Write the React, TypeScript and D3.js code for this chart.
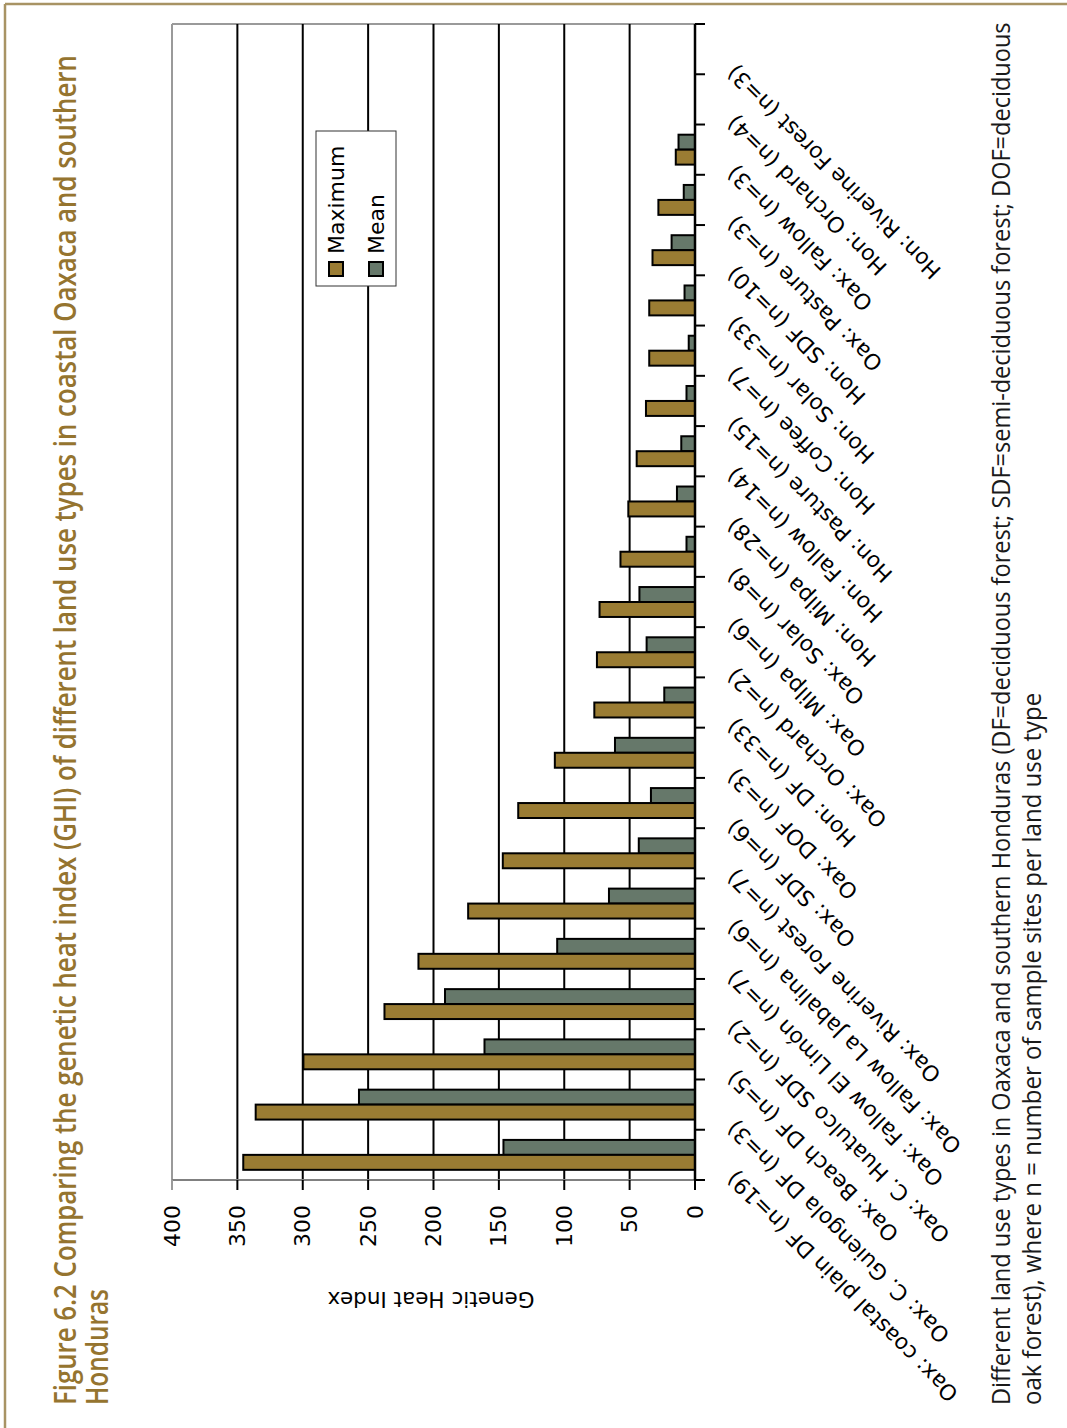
import React, { useLayoutEffect, useRef, useState } from "react";
import * as d3 from "d3";

const categories: string[] = [
  "Oax: coastal plain DF (n=19)",
  "Oax: C. Guiengola DF (n=3)",
  "Oax: Beach DF (n=5)",
  "Oax: C. Huatulco SDF (n=2)",
  "Oax: Fallow El Limón (n=7)",
  "Oax: Fallow La Jabalina (n=6)",
  "Oax: Riverine Forest (n=7)",
  "Oax: SDF (n=6)",
  "Oax: DOF (n=3)",
  "Hon: DF (n=33)",
  "Oax: Orchard (n=2)",
  "Oax: Milpa (n=6)",
  "Oax: Solar (n=8)",
  "Hon: Milpa (n=28)",
  "Hon: Fallow (n=14)",
  "Hon: Pasture (n=15)",
  "Hon: Coffee (n=7)",
  "Hon: Solar (n=33)",
  "Hon: SDF (n=10)",
  "Oax: Pasture (n=3)",
  "Oax: Fallow (n=3)",
  "Hon: Orchard (n=4)",
  "Hon: Riverine Forest (n=3)",
];

const maximumValues: (number | null)[] = [
  345.5, 336, 299.5, 237.5, 211.5, 173.5, 147, 135.2, 107.2, 77, 75, 73, 57,
  51, 44.6, 37.5, 35, 35, 32.5, 28, 14.7, null, null,
];

const meanValues: (number | null)[] = [
  146.5, 257, 161, 191.2, 105.4, 65.8, 43, 33.7, 61.2, 23.5, 37, 42.5, 6.5,
  13.8, 10.5, 6.5, 4.8, 8, 17.9, 8.6, 12.6, null, null,
];

const seriesNames = ["Maximum", "Mean"];
const valueTicks = [0, 50, 100, 150, 200, 250, 300, 350, 400];

const titleLines = [
  "Figure 6.2 Comparing the genetic heat index (GHI) of different land use types in coastal Oaxaca and southern",
  "Honduras",
];
const captionLines = [
  "Different land use types in Oaxaca and southern Honduras (DF=deciduous forest; SDF=semi-deciduous forest; DOF=deciduous",
  "oak forest), where n = number of sample sites per land use type",
];
const axisTitle = "Genetic Heat Index";

const W = 1067;
const H = 1428;
const GOLD = "#9a7c33";
const GREEN = "#66786a";
const TITLE = "#95742f";
const FRAME = "#a89364";
const CHART_FONT = "'DejaVu Sans', Verdana, sans-serif";

// Vertical (bottom-to-top) text squeezed along its reading direction to a target length
function FitVText(props: {
  x: number;
  y: number;
  target: number;
  fontSize: number;
  fontWeight: number;
  fill: string;
  children: string;
}) {
  const ref = useRef<SVGTextElement>(null);
  const [sx, setSx] = useState(0.8);
  useLayoutEffect(() => {
    if (ref.current) {
      const len = ref.current.getComputedTextLength();
      if (len > 0) setSx(props.target / len);
    }
  }, [props.target, props.children]);
  return (
    <text
      ref={ref}
      transform={`translate(${props.x}, ${props.y}) rotate(-90) scale(${sx}, 1)`}
      fontFamily="'Open Sans', sans-serif"
      fontWeight={props.fontWeight}
      fontSize={props.fontSize}
      fill={props.fill}
    >
      {props.children}
    </text>
  );
}

export default function App() {
  const left = 172;
  const right = 695;
  const top = 24;
  const bottom = 1180;

  const x = d3.scaleLinear().domain([0, 400]).range([right, left]);
  const y = d3.scaleBand<string>().domain(categories).range([bottom, top]);
  const bw = y.bandwidth();
  const sub = d3
    .scaleBand<string>()
    .domain(["Mean", "Maximum"])
    .range([0, bw])
    .paddingInner(0)
    .paddingOuter(0.68);

  const boundaries = d3.range(categories.length + 1).map((i) => top + i * bw);

  const bars: { key: string; series: string; v: number; cat: string }[] = [];
  categories.forEach((c, i) => {
    const m = maximumValues[i];
    const a = meanValues[i];
    if (a != null) bars.push({ key: c + "mean", series: "Mean", v: a, cat: c });
    if (m != null) bars.push({ key: c + "max", series: "Maximum", v: m, cat: c });
  });

  return (
    <svg
      width={W}
      height={H}
      viewBox={`0 0 ${W} ${H}`}
      style={{ position: "absolute", left: 0, top: 0, background: "#fff" }}
    >
      {/* frame */}
      <line x1={5} y1={4} x2={W} y2={4} stroke={FRAME} strokeWidth={2.5} />
      <line x1={5} y1={4} x2={5} y2={H} stroke={FRAME} strokeWidth={2.5} />

      {/* title */}
      {titleLines.map((t, i) => (
        <FitVText
          key={i}
          x={76 + i * 32}
          y={1405}
          target={i === 0 ? 1350 : 116}
          fontSize={30}
          fontWeight={600}
          fill={TITLE}
        >
          {t}
        </FitVText>
      ))}

      {/* caption */}
      {captionLines.map((t, i) => (
        <FitVText
          key={i}
          x={1010 + i * 31}
          y={1405}
          target={i === 0 ? 1383 : 712}
          fontSize={25}
          fontWeight={400}
          fill="#1a1a1a"
        >
          {t}
        </FitVText>
      ))}

      {/* plot border */}
      <line x1={left} y1={top} x2={right} y2={top} stroke="#9a9a9a" strokeWidth={2} />
      <line x1={left} y1={top} x2={left} y2={bottom} stroke="#9a9a9a" strokeWidth={2} />

      {/* gridlines */}
      {valueTicks
        .filter((v) => v > 0 && v < 400)
        .map((v) => (
          <line key={v} x1={x(v)} x2={x(v)} y1={top} y2={bottom} stroke="#000" strokeWidth={2} />
        ))}

      {/* value axis */}
      <line x1={left} y1={bottom} x2={right} y2={bottom} stroke="#808080" strokeWidth={2} />
      {valueTicks.map((v) => (
        <line
          key={v}
          x1={x(v)}
          x2={x(v)}
          y1={bottom}
          y2={bottom + 10}
          stroke={v === 400 ? "#9a9a9a" : "#000"}
          strokeWidth={2}
        />
      ))}
      {valueTicks.map((v) => (
        <text
          key={v}
          transform={`translate(${x(v)}, 1205) rotate(-90)`}
          textAnchor="end"
          dominantBaseline="central"
          fontFamily={CHART_FONT}
          fontSize={22}
          fill="#000"
        >
          {v}
        </text>
      ))}
      <text
        transform="translate(431, 1299) rotate(180)"
        textAnchor="middle"
        dominantBaseline="central"
        fontFamily={CHART_FONT}
        fontSize={21.5}
        fill="#000"
      >
        {axisTitle}
      </text>

      {/* bars */}
      {bars.map((b) => (
        <rect
          key={b.key}
          x={x(b.v)}
          y={(y(b.cat) as number) + (sub(b.series) as number)}
          width={x(0) - x(b.v)}
          height={sub.bandwidth()}
          fill={b.series === "Maximum" ? GOLD : GREEN}
          stroke="#000"
          strokeWidth={2}
        />
      ))}

      {/* category axis */}
      <line x1={right} y1={top} x2={right} y2={bottom} stroke="#000" strokeWidth={2.5} />
      {boundaries.map((b, i) => (
        <line key={i} x1={right} x2={right + 10} y1={b} y2={b} stroke="#000" strokeWidth={2} />
      ))}
      {categories.map((c) => (
        <text
          key={c}
          transform={`translate(${right + 36}, ${(y(c) as number) + bw / 2 + 20}) rotate(225)`}
          textAnchor="end"
          dominantBaseline="central"
          fontFamily={CHART_FONT}
          fontSize={21.8}
          fill="#000"
        >
          {c}
        </text>
      ))}

      {/* legend */}
      <rect x={316} y={131} width={80} height={155} fill="#fff" stroke="#333" strokeWidth={1} />
      {seriesNames.map((s, i) => (
        <g key={s}>
          <rect
            x={329 + i * 40}
            y={262}
            width={14}
            height={14}
            fill={s === "Maximum" ? GOLD : GREEN}
            stroke="#000"
            strokeWidth={2}
          />
          <text
            transform={`translate(${336 + i * 40}, 254) rotate(-90)`}
            dominantBaseline="central"
            fontFamily={CHART_FONT}
            fontSize={22}
            fill="#000"
          >
            {s}
          </text>
        </g>
      ))}
    </svg>
  );
}
